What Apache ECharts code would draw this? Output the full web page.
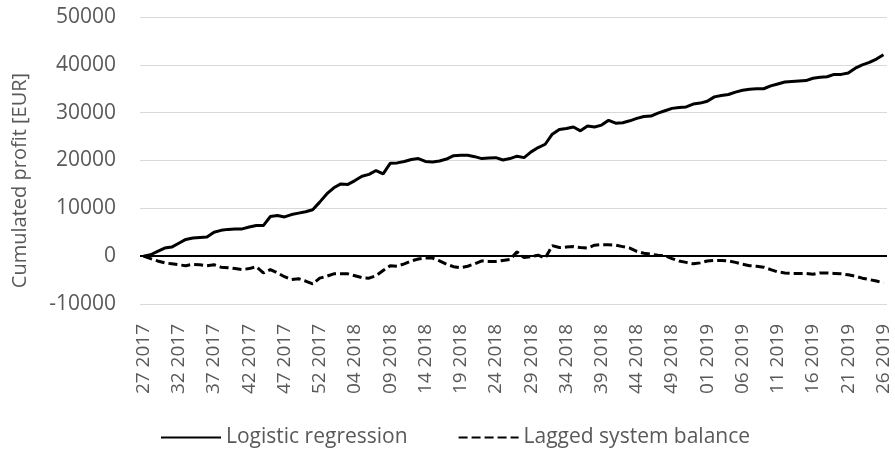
<!DOCTYPE html>
<html>
<head>
<meta charset="utf-8">
<script src="https://cdn.jsdelivr.net/npm/echarts@6/dist/echarts.min.js"></script>
<style>
  html, body { margin: 0; padding: 0; background: #fff; }
  #main { width: 895px; height: 454px; }
</style>
</head>
<body>
<div id="main"></div>
<script>
  // week labels (week year)
  const weeks = [
    '27 2017','28 2017','29 2017','30 2017','31 2017','32 2017','33 2017','34 2017','35 2017','36 2017',
    '37 2017','38 2017','39 2017','40 2017','41 2017','42 2017','43 2017','44 2017','45 2017','46 2017',
    '47 2017','48 2017','49 2017','50 2017','51 2017','52 2017','53 2017',
    '01 2018','02 2018','03 2018','04 2018','05 2018','06 2018','07 2018','08 2018','09 2018','10 2018',
    '11 2018','12 2018','13 2018','14 2018','15 2018','16 2018','17 2018','18 2018','19 2018','20 2018',
    '21 2018','22 2018','23 2018','24 2018','25 2018','26 2018','27 2018','28 2018','29 2018','30 2018',
    '31 2018','32 2018','33 2018','34 2018','35 2018','36 2018','37 2018','38 2018','39 2018','40 2018',
    '41 2018','42 2018','43 2018','44 2018','45 2018','46 2018','47 2018','48 2018','49 2018','50 2018',
    '51 2018','52 2018','53 2018',
    '01 2019','02 2019','03 2019','04 2019','05 2019','06 2019','07 2019','08 2019','09 2019','10 2019',
    '11 2019','12 2019','13 2019','14 2019','15 2019','16 2019','17 2019','18 2019','19 2019','20 2019',
    '21 2019','22 2019','23 2019','24 2019','25 2019','26 2019'
  ];

  // cumulated profit, logistic regression [EUR]
  const logisticRegression = [
    0, 300, 1000, 1700, 1900, 2700, 3500, 3800, 3900, 4000,
    5000, 5400, 5600, 5700, 5700, 6100, 6400, 6400, 8300, 8500,
    8200, 8700, 9000, 9300, 9700, 11300, 13000, 14300, 15100, 15000,
    15800, 16700, 17100, 17900, 17200, 19400, 19500, 19800, 20200, 20400,
    19800, 19700, 19900, 20300, 21000, 21100, 21100, 20800, 20400, 20500,
    20600, 20100, 20400, 20900, 20600, 21800, 22700, 23400, 25500, 26500,
    26700, 27000, 26200, 27200, 27000, 27400, 28400, 27800, 27900, 28300,
    28800, 29200, 29300, 29900, 30400, 30900, 31100, 31200, 31800, 32000,
    32400, 33300, 33600, 33800, 34300, 34700, 34900, 35000, 35000, 35600,
    36000, 36400, 36500, 36600, 36700, 37200, 37400, 37500, 38000, 38000,
    38300, 39300, 40000, 40500, 41200, 42100
  ];

  // cumulated profit, lagged system balance [EUR]
  const laggedBalance = [
    0, -500, -1000, -1400, -1600, -1800, -2000, -1700, -1800, -2000,
    -1800, -2300, -2400, -2600, -2800, -2600, -2200, -3500, -2800, -3500,
    -4300, -4900, -4700, -5200, -5800, -4600, -4200, -3700, -3700, -3700,
    -4100, -4500, -4600, -4100, -3000, -2000, -2100, -1600, -1000, -600,
    -400, -400, -1000, -1700, -2200, -2400, -2100, -1600, -1000, -1100,
    -1100, -900, -700, 900, -300, -100, 200, -400, 2200, 1800,
    1900, 2000, 1800, 1700, 2300, 2400, 2400, 2300, 2000, 1700,
    1000, 600, 400, 200, 100, -500, -1000, -1300, -1600, -1400,
    -1000, -900, -900, -1000, -1300, -1700, -2000, -2100, -2300, -2800,
    -3300, -3500, -3600, -3600, -3600, -3800, -3500, -3500, -3600, -3700,
    -3900, -4200, -4600, -4900, -5200, -5600
  ];

  const FONT = '"Open Sans", sans-serif';
  const TXT = '#595959';

  let myChart = echarts.init(document.getElementById('main'));
  myChart.setOption({
    animation: false,
    grid: {
      left: 140,
      right: 8,
      top: 17,
      bottom: 150
    },
    legend: {
      left: 155,
      top: 422,
      itemWidth: 60,
      itemHeight: 14,
      itemGap: 50,
      itemStyle: { opacity: 0 }, // line only, no symbol
      textStyle: { color: TXT, fontSize: 21, fontFamily: FONT },
      data: ['Logistic regression', 'Lagged system balance']
    },
    xAxis: {
      type: 'category',
      data: weeks,
      boundaryGap: true,
      axisLine: { show: false, onZero: false },
      axisTick: { show: false },
      axisLabel: {
        interval: 4,
        rotate: 90,
        margin: 20,
        color: TXT,
        fontSize: 19,
        fontFamily: FONT
      },
      splitLine: { show: false }
    },
    yAxis: {
      type: 'value',
      min: -10000,
      max: 50000,
      interval: 10000,
      name: 'Cumulated profit [EUR]',
      nameLocation: 'middle',
      nameRotate: 90,
      nameGap: 110,
      nameTextStyle: { color: TXT, fontSize: 20, fontFamily: FONT, padding: [0, 40, 0, 0] },
      axisLine: { show: false },
      axisTick: { show: false },
      axisLabel: {
        color: TXT,
        fontSize: 21,
        fontFamily: FONT,
        margin: 24,
        formatter: function (v) { return String(v); }
      },
      splitLine: { lineStyle: { color: '#d9d9d9', width: 1 } }
    },
    series: [
      {
        name: 'Logistic regression',
        type: 'line',
        data: logisticRegression,
        symbol: 'none',
        itemStyle: { color: '#000' },
        lineStyle: { color: '#000', width: 3 },
        // zero line
        markLine: {
          silent: true,
          symbol: 'none',
          label: { show: false },
          lineStyle: { color: '#000', width: 2, type: 'solid' },
          data: [{ yAxis: 0 }]
        }
      },
      {
        name: 'Lagged system balance',
        type: 'line',
        data: laggedBalance,
        symbol: 'none',
        itemStyle: { color: '#000' },
        lineStyle: { color: '#000', width: 3, type: [9, 4] }
      }
    ]
  });
</script>
</body>
</html>
